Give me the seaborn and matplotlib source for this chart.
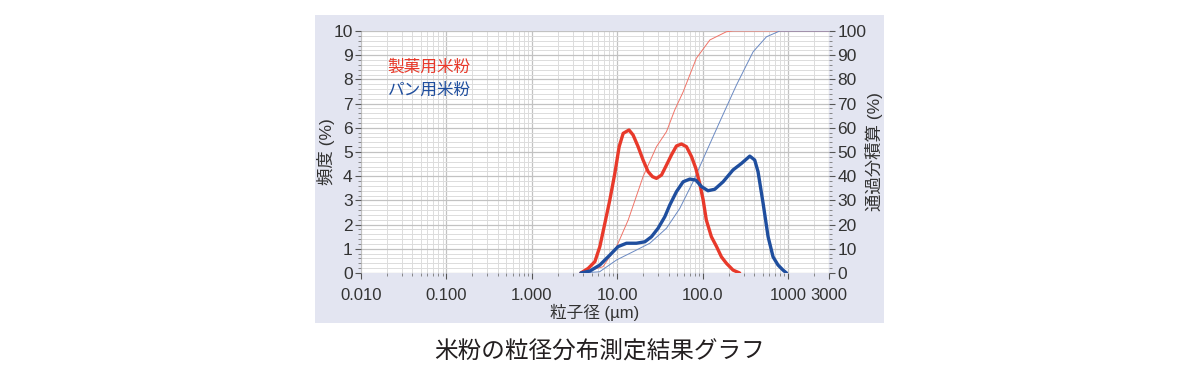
import numpy as np
import pandas as pd
import matplotlib
matplotlib.use("Agg")
import matplotlib.pyplot as plt
from matplotlib.patches import Rectangle
from matplotlib.ticker import FixedLocator, MultipleLocator, LogLocator, NullFormatter
import seaborn as sns

sns.set_theme(style="white")
plt.rcParams['font.family'] = ['Liberation Sans', 'Noto Sans CJK JP', 'DejaVu Sans']

# ---- data ----
red_freq_x = [3.74, 4.56, 5.46, 6.24, 7.14, 8.17, 9.35, 10.5, 11.7, 13.7, 15.3, 17.5, 20.0, 22.9,
              25.8, 28.7, 32.9, 37.6, 43, 49.2, 56.3, 64.4, 73.8, 82.8, 92, 101, 110, 126, 145,
              165, 189, 226, 270]
red_freq_y = [0.0, 0.19, 0.47, 1.09, 2.05, 3.02, 4.12, 5.22, 5.77, 5.91, 5.70, 5.22, 4.67, 4.19,
              3.98, 3.91, 4.05, 4.46, 4.88, 5.25, 5.33, 5.22, 4.81, 4.33, 3.70, 3.02, 2.19, 1.50, 1.09,
              0.67, 0.40, 0.12, 0.0]

blue_freq_x = [3.74, 4.76, 6.24, 8.17, 10.2, 12.8, 16.7, 21, 25.1, 30, 36, 41.1, 49.2, 58.9, 70.5,
               82.8, 96.6, 115, 138, 173, 226, 284, 355, 405, 443, 508, 581, 664, 759, 869, 955]
blue_freq_y = [0.0, 0.08, 0.33, 0.74, 1.09, 1.23, 1.23, 1.29, 1.50, 1.85, 2.33, 2.81, 3.36, 3.77, 3.88,
               3.84, 3.57, 3.40, 3.46, 3.77, 4.26, 4.53, 4.83, 4.67, 4.19, 2.88, 1.50, 0.67, 0.33, 0.12, 0.0]

red_cum_x = [3.74, 6.8, 9.8, 13.4, 20, 28.7, 37.6, 47, 59, 84, 121, 189, 226, 3000]
red_cum_y = [0.0, 2.6, 10.9, 21.9, 39.8, 52.2, 58.4, 67.4, 74.9, 88.7, 96.3, 99.7, 100, 100]

blue_cum_x = [3.74, 6.2, 9.8, 15.3, 24, 37.6, 53.8, 77, 110, 158, 248, 388, 556, 795, 3000]
blue_cum_y = [0.0, 0.5, 5.4, 8.8, 12.3, 18.5, 26.7, 37.7, 50.1, 62.5, 77.7, 91.4, 97.6, 100, 100]

x_ticks = [0.01, 0.1, 1, 10, 100, 1000, 3000]
x_tick_labels = ['0.010', '0.100', '1.000', '10.00', '100.0', '1000', '3000']
left_ticks = list(range(0, 11))
right_ticks = list(range(0, 101, 10))

series_names = ['製菓用米粉', 'パン用米粉']
title_text = '米粉の粒径分布測定結果グラフ'
xlabel_text = '粒子径 (µm)'
ylabel_left = '頻度 (%)'
ylabel_right = '通過分積算 (%)'

RED = '#e8392a'
BLUE = '#1f4e9e'
TXT = '#333333'

fig = plt.figure(figsize=(12, 3.83), dpi=100)
fig.patch.set_facecolor('white')
# lavender panel
fig.patches.append(Rectangle((315/1200, 1-323/383), (884-315)/1200, (323-15)/383,
                             transform=fig.transFigure, facecolor='#e3e5f1',
                             edgecolor='none', zorder=-5))

ax = fig.add_axes([361/1200, 1-273/383, (829-361)/1200, (273-31)/383])
ax2 = ax.twinx()

df_rf = pd.DataFrame({'x': red_freq_x, 'y': red_freq_y})
df_bf = pd.DataFrame({'x': blue_freq_x, 'y': blue_freq_y})
df_rc = pd.DataFrame({'x': red_cum_x, 'y': red_cum_y})
df_bc = pd.DataFrame({'x': blue_cum_x, 'y': blue_cum_y})

sns.lineplot(data=df_rc, x='x', y='y', ax=ax2, color='#f07468', lw=0.7, sort=False)
sns.lineplot(data=df_bc, x='x', y='y', ax=ax2, color='#6a89c2', lw=0.7, sort=False)
sns.lineplot(data=df_rf, x='x', y='y', ax=ax, color=RED, lw=2.4, sort=False,
             solid_joinstyle='round', solid_capstyle='round')
sns.lineplot(data=df_bf, x='x', y='y', ax=ax, color=BLUE, lw=2.4, sort=False,
             solid_joinstyle='round', solid_capstyle='round')

ax.set_xscale('log')
ax.set_xlim(0.01, 3000)
ax.set_ylim(0, 10)
ax2.set_ylim(0, 100)

# freq axes drawn above the cumulative (twin) axes
ax2.set_zorder(1)
ax.set_zorder(2)
ax.patch.set_visible(False)
ax2.patch.set_visible(True)
ax2.patch.set_facecolor('white')
ax2.xaxis.set_visible(True)
ax2.set_xlabel('')

ax.xaxis.set_major_locator(FixedLocator(x_ticks))
ax.set_xticklabels(x_tick_labels)
ax.xaxis.set_minor_locator(LogLocator(base=10, subs=np.arange(2, 10), numticks=20))
ax.xaxis.set_minor_formatter(NullFormatter())
ax.yaxis.set_major_locator(FixedLocator(left_ticks))
ax.yaxis.set_minor_locator(MultipleLocator(0.2))
ax2.yaxis.set_major_locator(FixedLocator(right_ticks))
ax2.yaxis.set_minor_locator(MultipleLocator(2))
ax2.set_yticklabels([str(t) for t in right_ticks])

# grid on the twin (background) axes
ax2.grid(which='major', axis='both', color='#c2c2c2', lw=0.9)
ax2.grid(which='minor', axis='both', color='#dcdcdc', lw=0.7)
ax2.set_axisbelow(True)
ax.grid(False)

for a in (ax, ax2):
    for s in a.spines.values():
        s.set_visible(False)
    a.tick_params(which='major', length=4, width=0.8, color='#555555', direction='out',
                  labelsize=12.5, labelcolor=TXT, pad=2)
    a.tick_params(which='minor', length=2, width=0.6, color='#777777', direction='out')
ax.tick_params(axis='y', which='both', left=True, right=False)
ax2.tick_params(axis='y', which='both', right=True, left=False)
ax.tick_params(axis='x', which='both', bottom=True, labelbottom=True, pad=7, labelsize=12)
ax2.tick_params(axis='x', which='both', bottom=False, top=False, labelbottom=False, labeltop=False)

ax.set_xlabel(xlabel_text, fontsize=12, color=TXT)
ax.xaxis.set_label_coords(0.5, -0.128)
ax.set_ylabel(ylabel_left, fontsize=12.5, color=TXT)
ax.yaxis.set_label_coords(-0.056, 0.5)
ax2.set_ylabel(ylabel_right, fontsize=12.5, color=TXT)
ax2.yaxis.set_label_coords(1.077, 0.5)

ax.text(0.057, 0.851, series_names[0], transform=ax.transAxes, color=RED, fontsize=12,
        ha='left', va='center')
ax.text(0.057, 0.756, series_names[1], transform=ax.transAxes, color=BLUE, fontsize=12,
        ha='left', va='center')

fig.text(0.5, 1-352/383, title_text, ha='center', va='center', fontsize=17, color='#231f20')

fig.savefig('out.png', dpi=100, facecolor=fig.get_facecolor())
